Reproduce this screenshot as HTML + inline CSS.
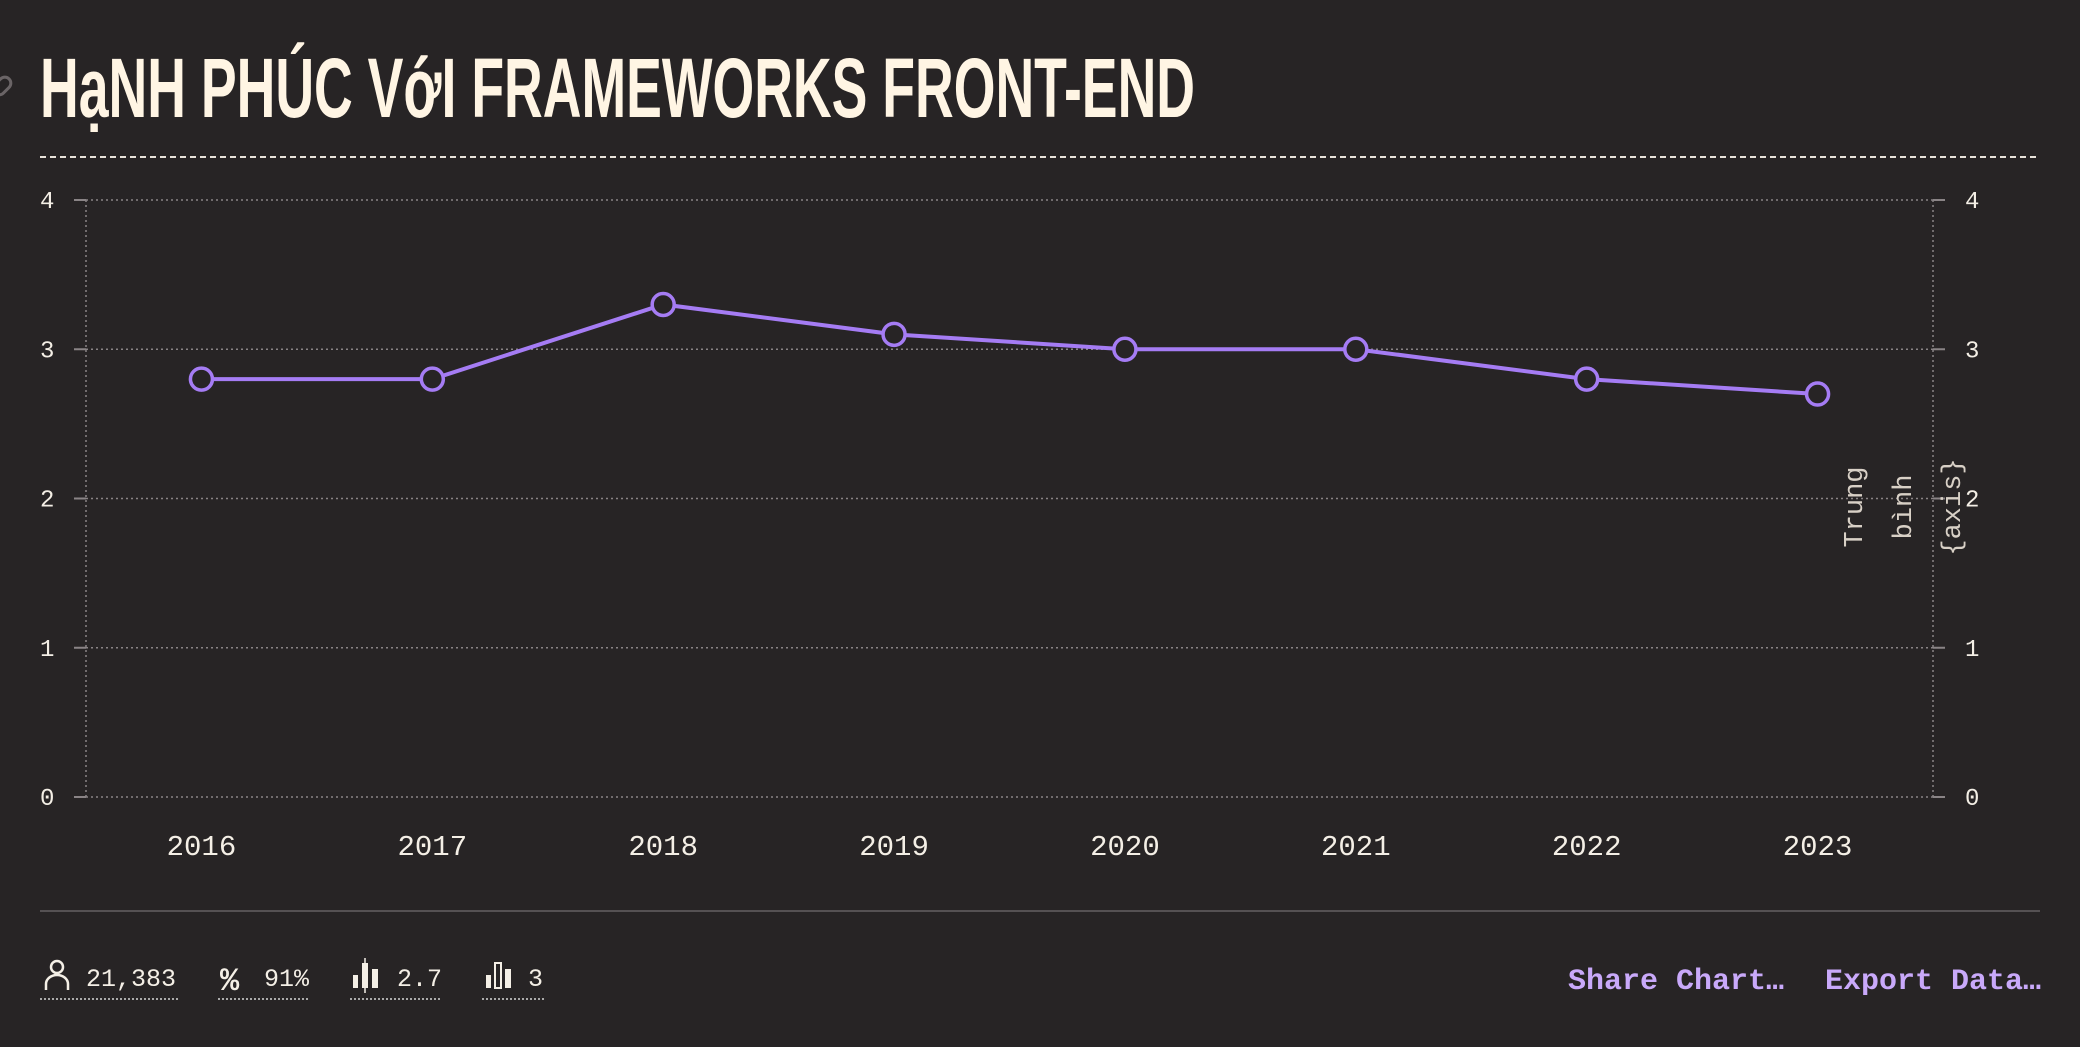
<!DOCTYPE html>
<html><head><meta charset="utf-8"><style>
html,body{margin:0;padding:0;background:#272425;}
body{width:2080px;height:1042px;overflow:hidden;position:relative;font-family:"Liberation Mono",monospace;}
svg text{font-family:"Liberation Mono","DejaVu Sans Mono",monospace;}
</style></head><body>
<svg id="chart" width="2080" height="1042" xmlns="http://www.w3.org/2000/svg">
<rect width="2080" height="1042" fill="#272425"/>
<g stroke="#6a6466" stroke-width="3" fill="none"><rect x="-8" y="80" width="20" height="12" rx="6" transform="rotate(-45 2 86)"/></g>
<text x="40" y="117" fill="#fff5e4" style="font-family:'Liberation Sans Narrow','Liberation Sans',sans-serif;font-weight:bold;font-size:84px" textLength="1155" lengthAdjust="spacingAndGlyphs">HạNH PHÚC VớI FRAMEWORKS FRONT-END</text>
<line x1="40" y1="157" x2="2040" y2="157" stroke="#e8e2da" stroke-width="2" stroke-dasharray="6,4"/>
<g id="grid"></g>
<g id="axes"></g>
<g id="series"></g>
<g fill="#d8d0c6" font-size="27" text-anchor="middle">
<text transform="translate(1862,507) rotate(-90)">Trung</text>
<text transform="translate(1911,507) rotate(-90)">bình</text>
<text transform="translate(1960,507) rotate(-90)">{axis}</text>
</g>
<line x1="40" y1="911" x2="2040" y2="911" stroke="#555153" stroke-width="2"/>
<g fill="#f4efe6">
<circle cx="57" cy="967" r="6" fill="none" stroke="#f4efe6" stroke-width="2.5"/>
<path d="M46 990 v-6 a11 9 0 0 1 22 0 v6" fill="none" stroke="#f4efe6" stroke-width="2.5"/>
<text x="86" y="986" font-size="25">21,383</text>
<line x1="40" y1="999" x2="178" y2="999" stroke="#aaa" stroke-width="2" stroke-dasharray="2,2"/>
</g>
<g fill="#f4efe6">
<text x="220" y="990" font-size="32" font-weight="bold">%</text>
<text x="264" y="986" font-size="25">91%</text>
<line x1="218" y1="999" x2="310" y2="999" stroke="#aaa" stroke-width="2" stroke-dasharray="2,2"/>
</g>
<g fill="#f4efe6">
<rect x="353" y="975" width="5" height="13"/><rect x="362" y="963" width="6" height="25"/><rect x="372" y="969" width="6" height="19"/>
<line x1="365" y1="958" x2="365" y2="993" stroke="#f4efe6" stroke-width="1.5"/>
<text x="397" y="986" font-size="25">2.7</text>
<line x1="350" y1="999" x2="442" y2="999" stroke="#aaa" stroke-width="2" stroke-dasharray="2,2"/>
</g>
<g fill="#f4efe6">
<rect x="486" y="975" width="5" height="13"/><rect x="495" y="963" width="6" height="25" fill="none" stroke="#f4efe6" stroke-width="2"/><rect x="505" y="969" width="6" height="19"/>
<text x="528" y="986" font-size="25">3</text>
<line x1="482" y1="999" x2="544" y2="999" stroke="#aaa" stroke-width="2" stroke-dasharray="2,2"/>
</g>
<text x="1568" y="989" font-size="30" font-weight="bold" fill="#c9a9fa">Share Chart…</text>
<text x="1825" y="989" font-size="30" font-weight="bold" fill="#c9a9fa">Export Data…</text>
</svg>
<script>
const categories = ["2016","2017","2018","2019","2020","2021","2022","2023"];
const values = [2.8, 2.8, 3.3, 3.1, 3.0, 3.0, 2.8, 2.7];
const yTicks = [0, 1, 2, 3, 4];
const NS = "http://www.w3.org/2000/svg";
const L = 86, R = 1933, T = 200, B = 797, yMax = 4;
const band = (R - L) / categories.length;
const xs = i => L + band * (i + 0.5);
const ys = v => B - (v / yMax) * (B - T);
function mk(tag, attrs, parent){ const e = document.createElementNS(NS, tag); for (const k in attrs) e.setAttribute(k, attrs[k]); parent.appendChild(e); return e; }
const grid = document.getElementById('grid'), axes = document.getElementById('axes'), series = document.getElementById('series');
yTicks.forEach(t => {
  const y = ys(t);
  const g = mk('line', {x1:L, x2:R, y1:y, y2:y, stroke:'#8a8486', 'stroke-width':1.5, 'stroke-dasharray':'2,3'}, grid);
  
  
  const tl = mk('line', {x1:L-12, x2:L, y1:y, y2:y, stroke:'#8a8486', 'stroke-width':2}, axes);
  
  
  const tr = mk('line', {x1:R, x2:R+12, y1:y, y2:y, stroke:'#8a8486', 'stroke-width':2}, axes);
  
  
  const a = mk('text', {x:40, y:y+8, 'font-size':24, fill:'#f4efe6'}, axes);
  a.textContent = t;
  
  
  const b = mk('text', {x:1965, y:y+8, 'font-size':24, fill:'#f4efe6'}, axes);
  b.textContent = t;
  
  
});
[L, R].forEach((x, k) => {
  const v = mk('line', {x1:x, x2:x, y1:T, y2:B, stroke:'#8a8486', 'stroke-width':1.5, 'stroke-dasharray':'2,3'}, axes);
  
  
});
categories.forEach((c, i) => {
  const t = mk('text', {x:xs(i), y:855, 'font-size':29, fill:'#f4efe6', 'text-anchor':'middle'}, axes);
  t.textContent = c;
  
  
});
const pts = values.map((v, i) => xs(i) + ',' + ys(v)).join(' ');
const pl = mk('polyline', {points:pts, fill:'none', stroke:'#a57cf4', 'stroke-width':4}, series);


values.forEach((v, i) => {
  const c = mk('circle', {cx:xs(i), cy:ys(v), r:11, fill:'#272425', stroke:'#a57cf4', 'stroke-width':3.5}, series);
  
  
});
</script>
</body></html>
